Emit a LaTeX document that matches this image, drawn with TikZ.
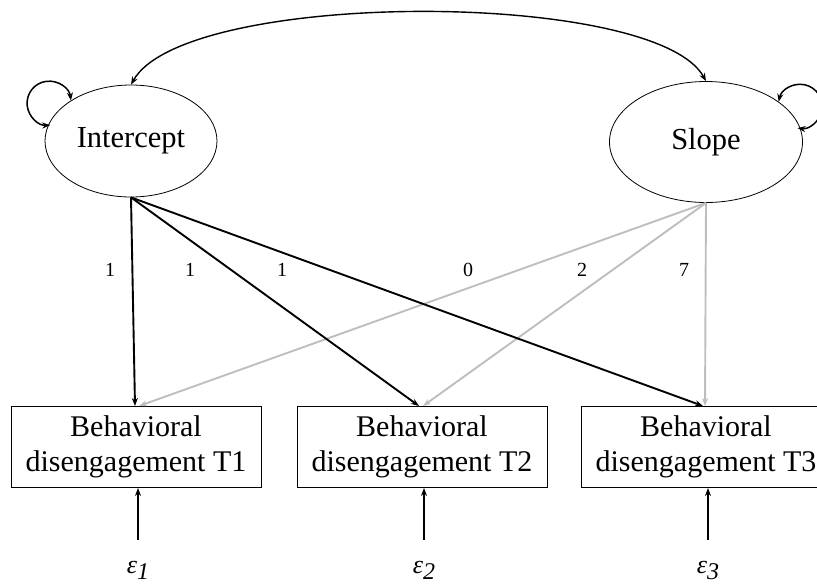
\documentclass[tikz,border=0pt]{standalone}
\usepackage{fontspec}
\setmainfont{Liberation Serif}
\usetikzlibrary{arrows.meta,%
		positioning,%
		shapes.geometric}
\definecolor{slopegray}{RGB}{190,190,190}

\begin{document}
\begin{tikzpicture}[x=1pt,y=-1pt,
	latent/.style={ellipse,draw,line width=0.8pt,inner sep=0pt,font=\fontsize{30.5}{34}\selectfont},
	observed/.style={rectangle,draw,line width=1pt,minimum width=250pt,minimum height=81pt,inner sep=0pt,align=center,font=\fontsize{30}{35}\selectfont},
	resid/.style={inner sep=0pt,outer ysep=21pt,font=\fontsize{26}{30}\selectfont\itshape},
	loadlabel/.style={font=\fontsize{20}{22}\selectfont},
	onetip/.style={-{Stealth[length=8pt,width=6pt]}},
	twotips/.style={{Stealth[length=8pt,width=6pt]}-{Stealth[length=8pt,width=6pt]}}]

\useasboundingbox (0,0) rectangle (817,587);
\clip (0,0) rectangle (817,587);

% growth factors
\node[latent,minimum width=172pt,minimum height=112pt] (i) at (131,141) {Intercept};
\node[latent,minimum width=193pt,minimum height=121pt] (s) at (706,142) {Slope};

% repeated measures
\node[observed] (b1) at (136,447) {Behavioral\\disengagement T1};
\node[observed] (b2) at (422,447) {Behavioral\\disengagement T2};
\node[observed] (b3) at (706,447) {Behavioral\\disengagement T3};

% residuals
\node[resid] (e1) at (138,570) {ε\raisebox{-6pt}{\fontsize{24}{24}\selectfont 1}};
\node[resid] (e2) at (424,570) {ε\raisebox{-6pt}{\fontsize{24}{24}\selectfont 2}};
\node[resid] (e3) at (708,570) {ε\raisebox{-6pt}{\fontsize{24}{24}\selectfont 3}};

% variances and covariance
\draw[twotips,line width=1.5pt] (i.146) arc[start angle=-7,end angle=-273,radius=22];
\draw[twotips,line width=1.5pt] (s.29) arc[start angle=192,end angle=457,radius=22];
\draw[twotips,line width=1.4pt] (i.north) .. controls (185,-11) and (655,-11) .. (s.north);

% slope loadings
\draw[onetip,slopegray,line width=1.9pt] (s.south) -- ([xshift=3pt]b1.north);
\draw[onetip,slopegray,line width=1.9pt] (s.south) -- ([xshift=1pt]b2.north);
\draw[onetip,slopegray,line width=1.9pt] (s.south) -- ([xshift=-1pt]b3.north);

% intercept loadings
\draw[onetip,line width=1.9pt] (i.south) -- ([xshift=-1pt]b1.north);
\draw[onetip,line width=1.9pt] (i.south) -- ([xshift=-3pt]b2.north);
\draw[onetip,line width=1.9pt] (i.south) -- ([xshift=-3pt]b3.north);

\node[loadlabel] (l1) at (110,270) {1};
\node[loadlabel] (l2) at (190,270) {1};
\node[loadlabel] (l3) at (282,270) {1};
\node[loadlabel] (l4) at (468,270) {0};
\node[loadlabel] (l5) at (582,270) {2};
\node[loadlabel] (l6) at (684,270) {7};

\draw[onetip,line width=1.9pt] (e1.north) -- (e1.north |- b1.south);
\draw[onetip,line width=1.9pt] (e2.north) -- (e2.north |- b2.south);
\draw[onetip,line width=1.9pt] (e3.north) -- (e3.north |- b3.south);
\end{tikzpicture}
\end{document}
